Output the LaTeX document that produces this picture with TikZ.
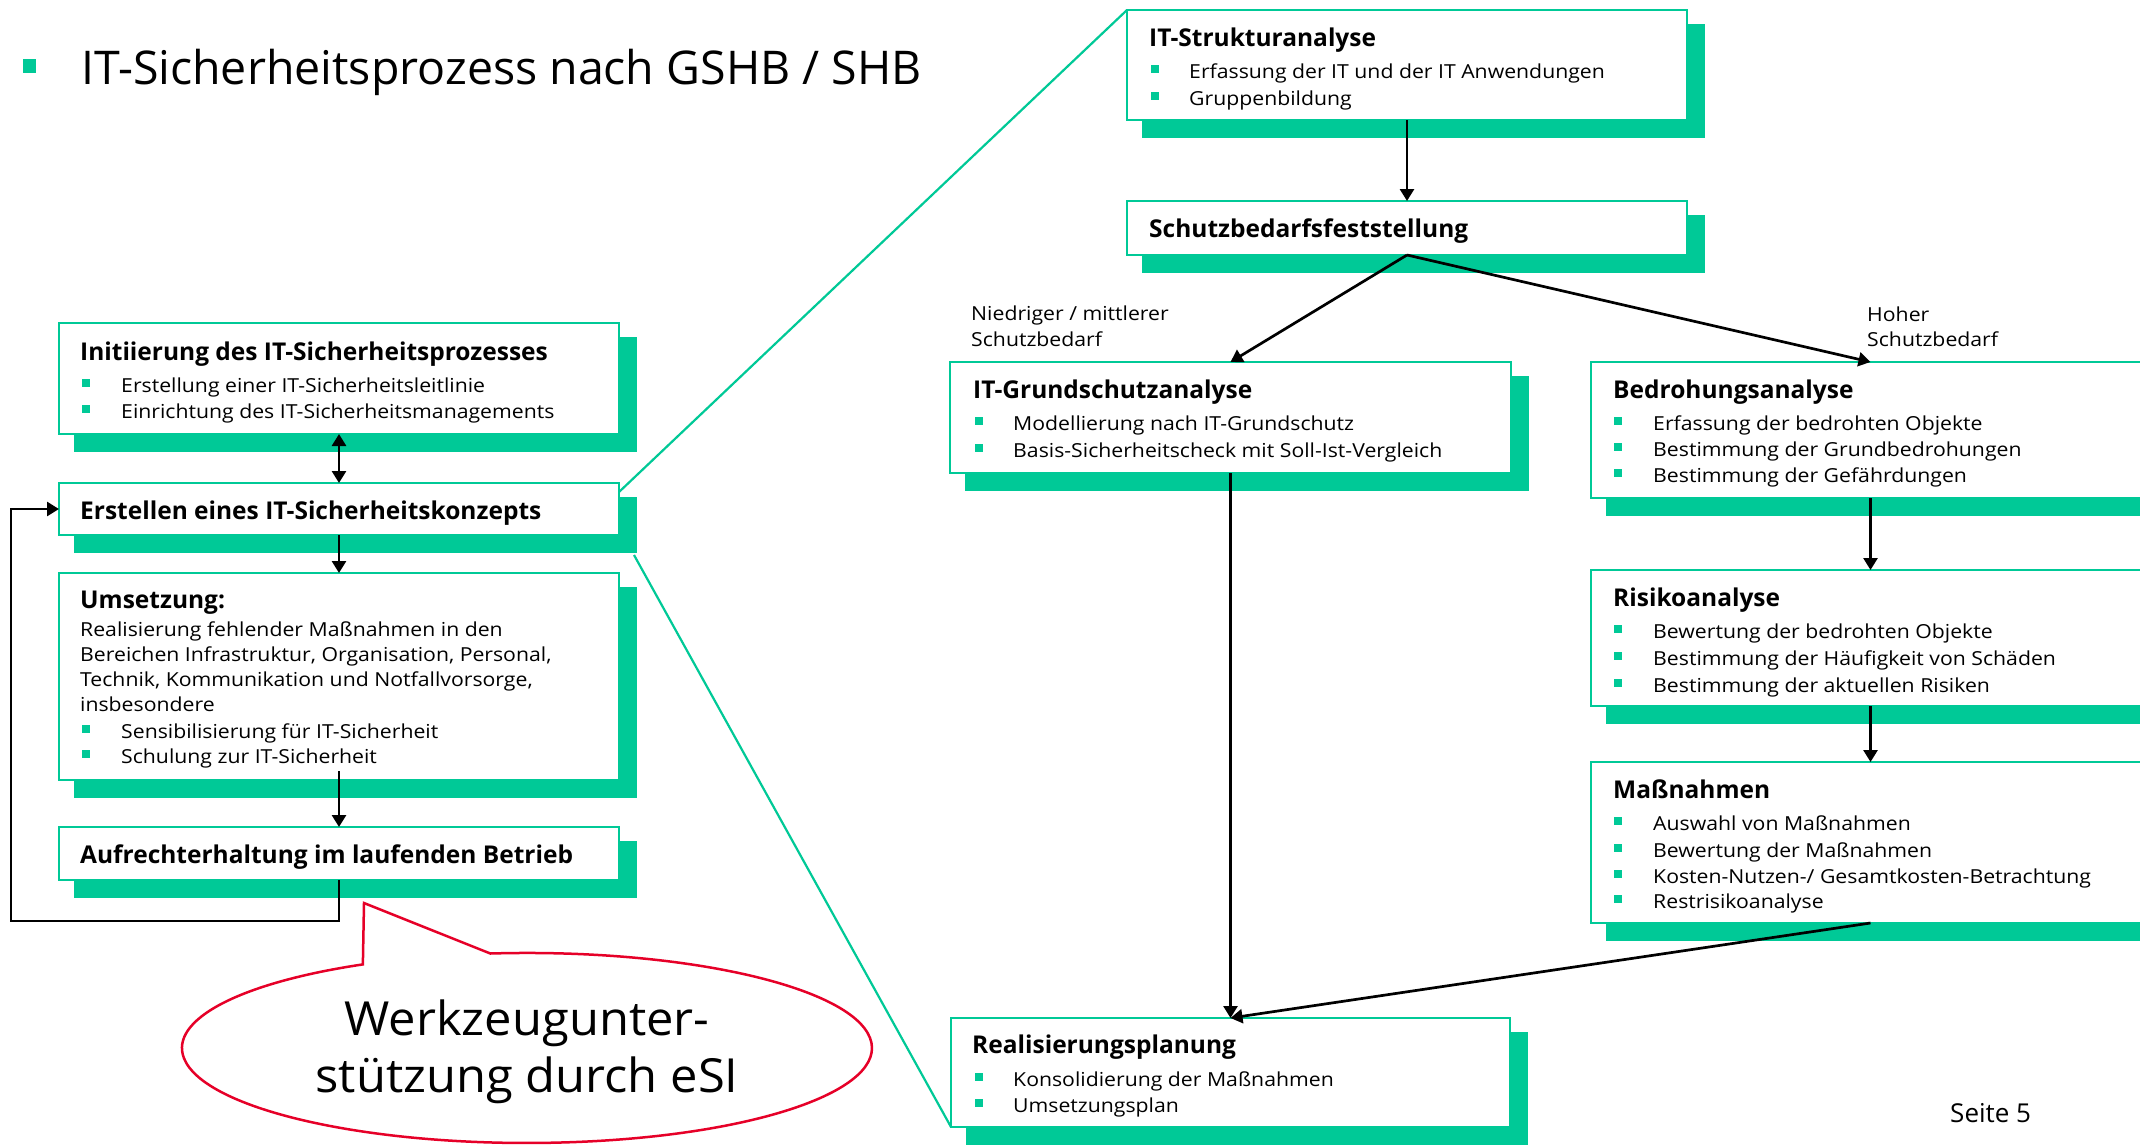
\documentclass[tikz,border=0pt]{standalone}
\usepackage{fontspec}
\setmainfont{Open Sans}
\newfontfamily\bodyfont{Open Sans}[FakeStretch=1.1]
\newfontfamily\bubfont{Open Sans}[FakeStretch=1.04]
\usetikzlibrary{arrows.meta,calc}
\definecolor{tealg}{RGB}{0,201,151}
\definecolor{bubred}{RGB}{230,0,40}
\newcommand{\procbox}[5]{%
  \fill[tealg] (#2+15,#3+14) rectangle (#4+18,#5+18);
  \node[box,minimum width=#4-#2,minimum height=#5-#3] (#1) at (#2,#3) {};}
\newcommand{\bitem}[5]{%
  \fill[tealg] (#2,#4-13) rectangle (#2+7.5,#4-5.5);
  \node[itm] (#1) at (#3,#4) {#5};}
\begin{document}
\begin{tikzpicture}[x=1pt,y=-1pt,
  box/.style={draw=tealg,line width=2pt,fill=white,anchor=north west,inner sep=0pt,outer sep=0pt},
  head/.style={anchor=base west,inner sep=0pt,font=\fontsize{24.5}{28}\selectfont\bfseries},
  itm/.style={anchor=base west,inner sep=0pt,font=\bodyfont\fontsize{19.3}{22}\selectfont},
  arr/.style={line width=2.7pt,-{Triangle[length=12pt,width=14pt]}},
  darr/.style={line width=2.7pt,{Triangle[length=12pt,width=14pt]}-{Triangle[length=12pt,width=14pt]}},
  zoomline/.style={draw=tealg,line width=2.2pt}]
\useasboundingbox (0,0) rectangle (2140,1144);
\clip (0,0) rectangle (2140,1144);
\fill[white] (0,0) rectangle (2140,1144);

% title
\fill[tealg] (23,59) rectangle (36,73);
\node[anchor=base west,inner sep=0pt,font=\fontsize{46.5}{50}\selectfont] (title) at (81,84) {IT-Sicherheitsprozess nach GSHB / SHB};

% boxes (zoom lines first)
\coordinate (erstne) at (619,492);
\coordinate (erstse) at (634,555);
\procbox{strukt}{1127}{10}{1687}{120}
\procbox{real}{951}{1018}{1510}{1127}
\draw[zoomline] (erstne) -- (strukt.north west);
\draw[zoomline] (erstse) -- (real.south west);

\procbox{init}{59}{323}{619}{434}
\procbox{erst}{59}{483}{619}{535}
\procbox{umset}{59}{573}{619}{780}
\procbox{aufr}{59}{827}{619}{880}
\procbox{schutz}{1127}{201}{1687}{255}
\procbox{grund}{950}{362}{1511}{473}
\procbox{bedroh}{1591}{362}{2150}{498}
\procbox{risiko}{1591}{570}{2150}{706}
\procbox{mass}{1591}{762}{2150}{923}

% left texts
\node[head] (inith) at (80,360) {Initiierung des IT-Sicherheitsprozesses};
\bitem{init1}{82}{121}{392}{Erstellung einer IT-Sicherheitsleitlinie}
\bitem{init2}{82}{121}{418}{Einrichtung des IT-Sicherheitsmanagements}
\node[head] (ersth) at (80,519) {Erstellen eines IT-Sicherheitskonzepts};
\node[head] (umseth) at (80,608) {Umsetzung:};
\node[itm] (umset1) at (80,636) {Realisierung fehlender Maßnahmen in den};
\node[itm] (umset2) at (80,661) {Bereichen Infrastruktur, Organisation, Personal,};
\node[itm] (umset3) at (80,686.5) {Technik, Kommunikation und Notfallvorsorge,};
\node[itm] (umset4) at (80,711.5) {insbesondere};
\bitem{umset5}{82}{121}{738}{Sensibilisierung für IT-Sicherheit}
\bitem{umset6}{82}{121}{763}{Schulung zur IT-Sicherheit}
\node[head] (aufrh) at (80,863) {Aufrechterhaltung im laufenden Betrieb};

% right texts
\node[head] (struktsh) at (1149,46) {IT-Strukturanalyse};
\bitem{strukt1}{1151}{1189}{78}{Erfassung der IT und der IT Anwendungen}
\bitem{strukt2}{1151}{1189}{105}{Gruppenbildung}
\node[head] (schutzh) at (1149,237) {Schutzbedarfsfeststellung};
\node[head] (grundh) at (973,398) {IT-Grundschutzanalyse};
\bitem{grund1}{975}{1013}{430}{Modellierung nach IT-Grundschutz}
\bitem{grund2}{975}{1013}{457}{Basis-Sicherheitscheck mit Soll-Ist-Vergleich}
\node[head] (bedrohh) at (1613,398) {Bedrohungsanalyse};
\bitem{bedroh1}{1614}{1653}{430}{Erfassung der bedrohten Objekte}
\bitem{bedroh2}{1614}{1653}{456}{Bestimmung der Grundbedrohungen}
\bitem{bedroh3}{1614}{1653}{482}{Bestimmung der Gefährdungen}
\node[head] (risikoh) at (1613,606) {Risikoanalyse};
\bitem{risiko1}{1614}{1653}{638}{Bewertung der bedrohten Objekte}
\bitem{risiko2}{1614}{1653}{665}{Bestimmung der Häufigkeit von Schäden}
\bitem{risiko3}{1614}{1653}{692}{Bestimmung der aktuellen Risiken}
\node[head] (massh) at (1613,798) {Maßnahmen};
\bitem{mass1}{1614}{1653}{830}{Auswahl von Maßnahmen}
\bitem{mass2}{1614}{1653}{857}{Bewertung der Maßnahmen}
\bitem{mass3}{1614}{1653}{883}{Kosten-Nutzen-/ Gesamtkosten-Betrachtung}
\bitem{mass4}{1614}{1653}{908}{Restrisikoanalyse}
\node[head] (realh) at (972,1053) {Realisierungsplanung};
\bitem{real1}{975}{1013}{1086}{Konsolidierung der Maßnahmen}
\bitem{real2}{975}{1013}{1112}{Umsetzungsplan}

% labels
\node[itm] (niedr1) at (971,320) {Niedriger / mittlerer};
\node[itm] (niedr2) at (971,346) {Schutzbedarf};
\node[itm] (hoch1) at (1867,321) {Hoher};
\node[itm] (hoch2) at (1867,346) {Schutzbedarf};
\node[anchor=base west,inner sep=0pt,font=\fontsize{26}{28}\selectfont] (seite) at (1950,1122) {Seite 5};

% arrows left
\draw[darr] (init.south) -- (erst.north);
\draw[arr] (erst.south) -- (umset.north);
\draw[arr] ($(umset.south)+(0,-9)$) -- (aufr.north);
\coordinate (fb) at (11,921);
\draw[arr] (aufr.south) |- (fb) |- (erst.west);

% arrows right
\draw[arr] (strukt.south) -- (schutz.north);
\draw[arr] (schutz.south) -- (grund.north);
\draw[arr] (schutz.south) -- (bedroh.north);
\draw[arr] (grund.south) -- (real.north);
\draw[arr] (bedroh.south) -- (risiko.north);
\draw[arr] (risiko.south) -- (mass.north);
\draw[arr] (mass.south) -- (real.north);

% bubble
\draw[bubred,line width=2.5pt,fill=white,line join=miter] (490.3,953.5) arc[start angle=263.9,end angle=601.6,x radius=345,y radius=95] -- (364,903) -- cycle;
\node[anchor=base,inner sep=0pt,font=\bubfont\fontsize{47}{50}\selectfont] (bub1) at (527,1035) {Werkzeugunter-};
\node[anchor=base,inner sep=0pt,font=\bubfont\fontsize{47}{50}\selectfont] (bub2) at (527,1092) {stützung durch eSI};
\end{tikzpicture}
\end{document}
